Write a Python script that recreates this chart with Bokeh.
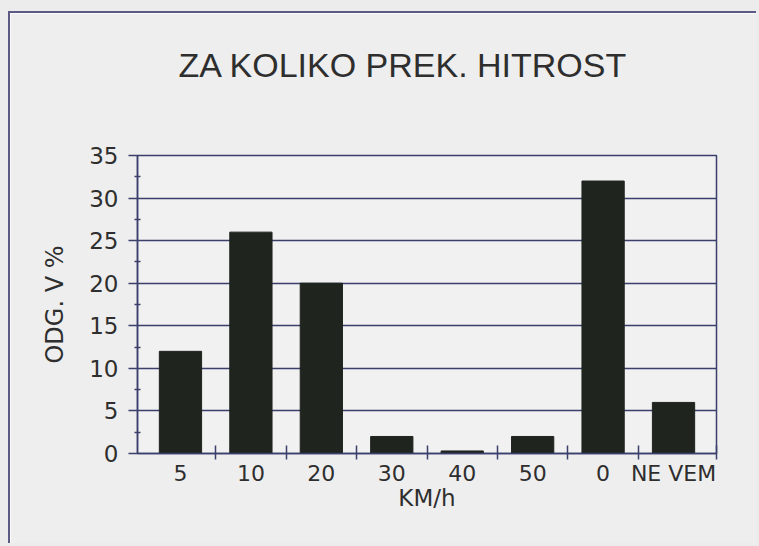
from bokeh.plotting import figure
from bokeh.models import FixedTicker, Range1d, ColumnDataSource, Title
from bokeh.embed import file_html
from bokeh.resources import INLINE

categories = ["5", "10", "20", "30", "40", "50", "0", "NE VEM"]
values = [12, 26, 20, 2, 0.3, 2, 32, 6]
y_ticks = [0, 5, 10, 15, 20, 25, 30, 35]
title_text = "ZA KOLIKO PREK. HITROST"

NAVY = "#3b3f6b"
TEXT = "#2e2e2e"
TITLE_FONT = "Liberation Sans"
FONT = "DejaVu Sans"
PAGE = "#ececec"

n = len(categories)
xs = [i + 0.5 for i in range(n)]
src = ColumnDataSource(dict(x=xs, top=values, cat=categories))

x_pad = 0.11
x_end = n + x_pad

# content starts at page (10, 13), inside the drawn page-frame border
p = figure(width=748, height=532, output_backend="svg", toolbar_location=None,
           title=None,
           x_range=Range1d(-x_pad, x_end), y_range=Range1d(0, 35),
           min_border_left=127, min_border_right=42, min_border_top=142, min_border_bottom=92)
p.styles = {"border-left": "2px solid #5a5a85", "border-top": "2px solid #5a5a85",
            "margin-left": "8px", "margin-top": "11px",
            "outline": "30px solid " + PAGE}

p.background_fill_color = "#f1f1f1"
p.border_fill_color = "#eeeeee"
p.outline_line_color = NAVY
p.outline_line_width = 1.5

p.vbar(x="x", top="top", width=0.6, bottom=0, source=src,
       fill_color="#1f241f", line_color="#1f241f")

# spacer between frame and title (closest to the frame), then the title
spacer = Title(text=" ", text_font=TITLE_FONT, text_font_size="34px", standoff=27)
p.add_layout(spacer, "above")
main_title = Title(text=title_text, text_font=TITLE_FONT, text_font_size="34px",
                   text_font_style="normal", text_color=TEXT,
                   align="left", offset=41, standoff=10)
p.add_layout(main_title, "above")

# x axis
xa = p.xaxis[0]
xa.ticker = FixedTicker(ticks=xs, minor_ticks=list(range(1, n)) + [x_end])
xa.major_label_overrides = {x: c for x, c in zip(xs, categories)}
xa.major_tick_in = 0
xa.major_tick_out = 0
xa.minor_tick_in = 8
xa.minor_tick_out = 6
xa.minor_tick_line_color = NAVY
xa.minor_tick_line_width = 1.5
xa.axis_line_color = NAVY
xa.axis_line_width = 1.5
xa.major_label_text_font = FONT
xa.major_label_text_font_size = "22px"
xa.major_label_text_color = TEXT
xa.major_label_standoff = 1
xa.axis_label = "KM/h"
xa.axis_label_text_font = FONT
xa.axis_label_text_font_size = "23px"
xa.axis_label_text_font_style = "normal"
xa.axis_label_text_color = TEXT
xa.axis_label_standoff = -4

# y axis
ya = p.yaxis[0]
ya.ticker = FixedTicker(ticks=y_ticks, minor_ticks=[t + 2.5 for t in y_ticks[:-1]])
ya.major_tick_in = 0
ya.major_tick_out = 9
ya.minor_tick_in = 3
ya.minor_tick_out = 3
ya.major_tick_line_color = NAVY
ya.minor_tick_line_color = NAVY
ya.major_tick_line_width = 1.5
ya.minor_tick_line_width = 1.5
ya.axis_line_color = NAVY
ya.axis_line_width = 1.5
ya.major_label_text_font = FONT
ya.major_label_text_font_size = "23px"
ya.major_label_text_color = TEXT
ya.major_label_standoff = 10
ya.axis_label = "ODG. V %"
ya.axis_label_text_font = FONT
ya.axis_label_text_font_size = "24px"
ya.axis_label_text_font_style = "normal"
ya.axis_label_text_color = TEXT
ya.axis_label_standoff = 17

p.xgrid.visible = False
p.ygrid.grid_line_color = NAVY
p.ygrid.grid_line_width = 1.5
p.ygrid.grid_line_alpha = 1.0

open("out.html", "w").write(file_html(p, INLINE))
